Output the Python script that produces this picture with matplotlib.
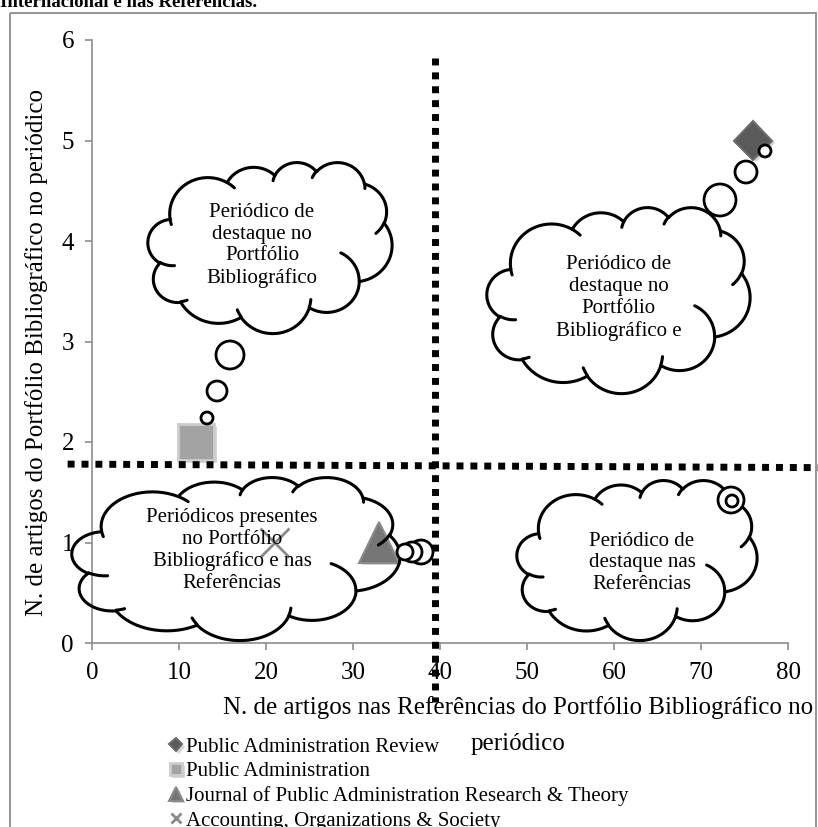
import numpy as np
import matplotlib.pyplot as plt
from matplotlib.patches import Circle, Rectangle
from matplotlib import patheffects

plt.rcParams['font.family'] = ['Liberation Serif', 'DejaVu Serif']

# journals and their counts
journals = ['Public Administration Review', 'Public Administration',
            'Journal of Public Administration Research & Theory',
            'Accounting, Organizations & Society']
refs_count = [76, 12, 33, 21]      # articles in the references of the portfolio
portfolio_count = [5, 2, 1, 1]     # articles in the portfolio
x_ticks = [0, 10, 20, 30, 40, 50, 60, 70, 80]
y_ticks = [0, 1, 2, 3, 4, 5, 6]

styles = [
    dict(marker='D', ms=19.5, mfc='#5a5a5a', mec='#6c6c6c', mew=1.5),
    dict(marker='s', ms=26, mfc='#a3a3a3', mec='#cdcdcd', mew=2.0),
    dict(marker='^', ms=29, mfc='#767676', mec='#8a8a8a', mew=1.5),
    dict(marker='x', ms=21, mec='#8a8a8a', mew=2.0),
]

W, H = 818, 827
fig = plt.figure(figsize=(W / 100, H / 100), dpi=100)
ax = fig.add_axes([92 / W, (H - 643) / H, 696 / W, 603 / H], zorder=1)
ax.patch.set_alpha(0)

shadow = [patheffects.withSimplePatchShadow(offset=(2, -2), shadow_rgbFace='0.55', alpha=0.35)]
for name, xv, yv, st in zip(journals, refs_count, portfolio_count, styles):
    ax.plot([xv], [yv], ls='none', label=name, path_effects=shadow, **st)

ax.set_xlim(0, 80)
ax.set_ylim(0, 6)
ax.set_xticks(x_ticks)
ax.set_yticks(y_ticks)
for s in ['top', 'right']:
    ax.spines[s].set_visible(False)
for s in ['left', 'bottom']:
    ax.spines[s].set_color('#8c8c8c')
    ax.spines[s].set_linewidth(1.2)
ax.tick_params(direction='out', length=5, width=1.2, color='#8c8c8c', labelsize=18)
ax.tick_params(axis='x', pad=9)
ax.tick_params(axis='y', pad=8)

ax.set_xlabel('N. de artigos nas Referências do Portfólio Bibliográfico no\nperiódico',
              fontsize=18, linespacing=1.8)
ax.xaxis.set_label_coords((518 - 92) / 696, (643 - 696) / 603)
ax.set_ylabel('N. de artigos do Portfólio Bibliográfico no periódico', fontsize=18)
ax.yaxis.set_label_coords((37 - 92) / 696, (643 - 352) / 603)
ax.yaxis.label.set_va('center')

# quadrant dividers
dots = dict(color='black', lw=5, ls=(0, (1, 1)), dash_capstyle='butt', clip_on=False, zorder=3)
ax.plot([39.4, 39.4], [5.82, -0.59], **dots)
ax.plot([-2.8, 83.5], [1.78, 1.745], **dots)

leg = ax.legend(loc='upper left', bbox_to_anchor=(170 / W, 1 - 737 / H),
                bbox_transform=fig.transFigure, frameon=False, fontsize=15,
                markerscale=0.34, handlelength=0.55, handletextpad=0.2,
                labelspacing=0.24, borderpad=0, borderaxespad=0)

# overlay in pixel units for the callout shapes
ov = fig.add_axes([0, 0, 1, 1], zorder=2)
ov.set_xlim(0, W)
ov.set_ylim(H, 0)
ov.axis('off')
ov.patch.set_alpha(0)

ov.add_patch(Rectangle((10, 13), 806, 840, fill=False, ec='#8c8c8c', lw=1.3, clip_on=False))
ov.text(0, 7, 'Internacional e nas Referências.', fontsize=13.5, weight='bold',
        va='baseline', ha='left')

# cloud outline in 43200 x 43200 shape units
CLOUD_START = (3900, 14370)
CLOUD_ARCS = [(6753, 9190, -11429249, 7426832), (5333, 7267, -8646143, 5396714),
              (4365, 5945, -8748475, 5983381), (4857, 6595, -7859164, 7034504),
              (5333, 7273, -4722533, 6541615), (6775, 9220, -2776035, 7816140),
              (5785, 7867, 37501, 6842000), (6752, 9215, 1347096, 6910353),
              (7720, 10543, 3974558, 4542661), (4360, 5918, -16496525, 8804134),
              (4345, 5945, -14809710, 9151131)]
CLOUD_INNER = [((4693, 26177), (4345, 5945, 5204520, 1585770)),
               ((6928, 34899), (4360, 5918, 4416628, 686848)),
               ((16478, 39090), (6752, 9215, 8257449, 844866)),
               ((28827, 34751), (6752, 9215, 387196, 959901)),
               ((34129, 22954), (5785, 7867, -4217541, 4255042)),
               ((41798, 15354), (5333, 7273, 1819082, 1665090)),
               ((38324, 5426), (4857, 6595, -824660, 891534)),
               ((29078, 3952), (4857, 6595, -8950887, 1091722)),
               ((22141, 4720), (4365, 5945, -9809656, 1061181)),
               ((14000, 5192), (6753, 9190, -4002417, 739161)),
               ((4127, 15789), (6753, 9190, 9459261, 711490))]


def arc_to(pt, wr, hr, st, sw, n=60):
    st, sw = st / 60000.0, sw / 60000.0
    a = np.radians(np.linspace(st, st + sw, n))
    t = np.unwrap(np.arctan2(wr * np.sin(a), hr * np.cos(a)))
    cx = pt[0] - wr * np.cos(t[0])
    cy = pt[1] - hr * np.sin(t[0])
    xs = cx + wr * np.cos(t)
    ys = cy + hr * np.sin(t)
    return xs, ys


def cloud(ax, box, text, tails, fs=15):
    x0, y0, x1, y1 = box
    sx, sy = (x1 - x0) / 43200.0, (y1 - y0) / 43200.0
    pt = CLOUD_START
    px, py = [pt[0]], [pt[1]]
    for wr, hr, st, sw in CLOUD_ARCS:
        xs, ys = arc_to(pt, wr, hr, st, sw)
        px.extend(xs); py.extend(ys)
        pt = (xs[-1], ys[-1])
    px.append(px[0]); py.append(py[0])
    ax.plot(x0 + np.array(px) * sx, y0 + np.array(py) * sy, color='black', lw=2.2,
            solid_joinstyle='round', solid_capstyle='round')
    for start, (wr, hr, st, sw) in CLOUD_INNER:
        xs, ys = arc_to(start, wr, hr, st, sw)
        ax.plot(x0 + xs * sx, y0 + ys * sy, color='black', lw=2.2, solid_capstyle='round')
    ax.text((x0 + x1) / 2 + text[1], (y0 + y1) / 2 + text[2], text[0], fontsize=fs,
            ha='center', va='center', multialignment='center', linespacing=1.2)
    for cx, cy, r in tails:
        ax.add_patch(Circle((cx, cy), r, fc='white', ec='black', lw=2.0, zorder=5))


cloud(ov, (148, 162, 392, 333),
      ('Periódico de\ndestaque no\nPortfólio\nBibliográfico', -8, -2),
      [(230, 355, 14), (217, 391, 10), (207, 418, 6)])
cloud(ov, (487, 207, 750, 393),
      ('Periódico de\ndestaque no\nPortfólio\nBibliográfico e', 0, -2),
      [(720, 200, 16), (746, 172, 11), (765, 151, 6)])
cloud(ov, (72, 477, 400, 640),
      ('Periódicos presentes\nno Portfólio\nBibliográfico e nas\nReferências', -4, -8),
      [(421, 552, 12), (412, 552, 10), (405, 552, 8)])
cloud(ov, (517, 480, 757, 640),
      ('Periódico de\ndestaque nas\nReferências', 5, 3),
      [(731, 500, 13), (732, 501, 6)])

fig.savefig('out.png', dpi=100)
